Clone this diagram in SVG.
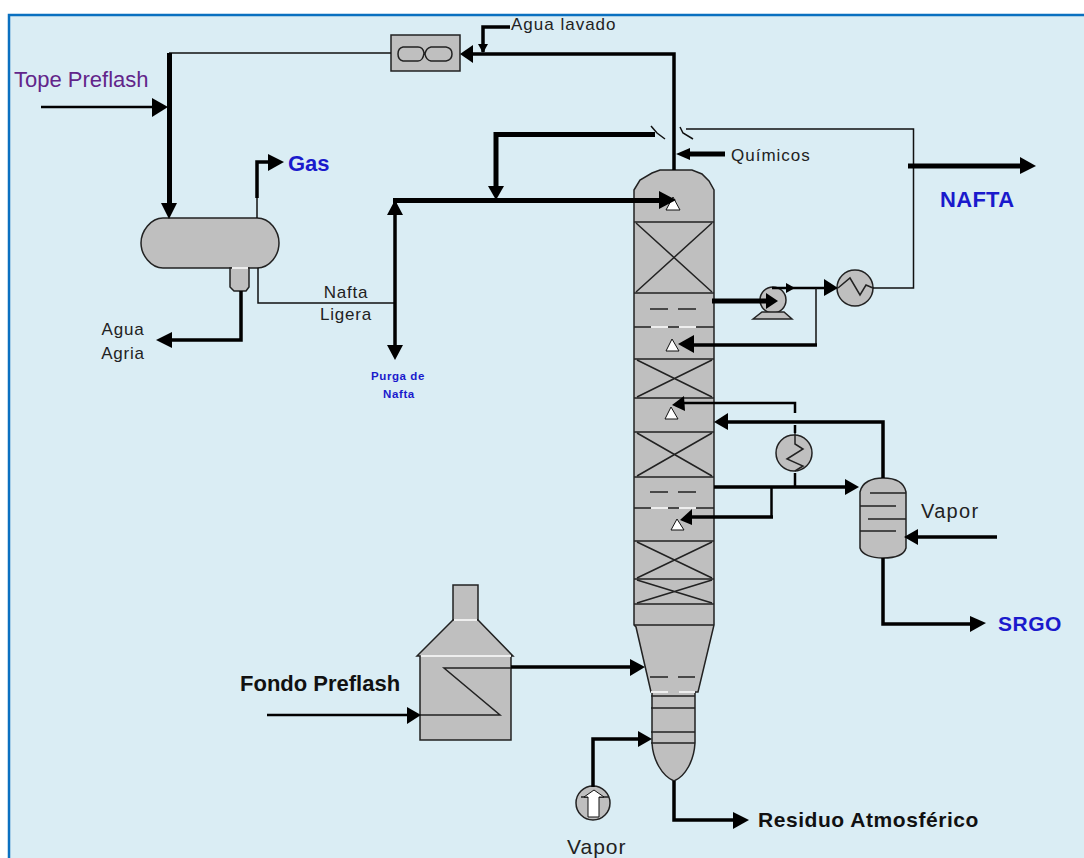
<svg xmlns="http://www.w3.org/2000/svg" width="1084" height="858" viewBox="0 0 1084 858">
<style>
.eq{fill:#bfbfbf;stroke:#222;stroke-width:1.5}
.in{fill:none;stroke:#222;stroke-width:1.5}
.w{fill:#fff;stroke:#111;stroke-width:1}
.lt{stroke:#eee;stroke-width:2;fill:none}
.p1{fill:none;stroke:#111;stroke-width:1.5}
.p2{fill:none;stroke:#000;stroke-width:2.500}
.p3{fill:none;stroke:#000;stroke-width:3.500}
.p5{fill:none;stroke:#000;stroke-width:5}
text{font-family:"Liberation Sans",Arial,sans-serif;fill:#222;font-size:18px}
.b{font-weight:bold;fill:#1a1acc;font-size:21px}
.k{font-weight:bold;fill:#111;font-size:21px}
.m{font-size:17px;letter-spacing:.8px}
.s{font-size:11.500px;font-weight:bold;fill:#1a1acc;letter-spacing:.6px}
</style>
<rect width="1084" height="858" fill="#fff"/>
<rect x="10" y="15" width="1074" height="843" fill="#daedf4"/>
<path d="M9 858V15H1084" fill="none" stroke="#0a70c0" stroke-width="2.500"/>

<g id="enfriador">
<rect class="eq" x="391" y="35" width="69" height="36"/>
<path class="in" d="M403 47H418Q423 47 424 53Q423 61 418 61H403Q398 60 398 54Q398 48 403 47ZM431 47H446Q452 48 452 54Q452 60 446 61H431Q426 60 425 54Q426 48 431 47Z"/>
</g>
<g id="separador">
<path class="eq" d="M163 218H257C270 218 279 231 279 243C279 255 270 268 257 268H163C151 268 141 255 141 243C141 231 151 218 163 218Z"/>
<path class="eq" d="M230 268H249V287L246 291H234L230 287Z"/>
<path class="lt" d="M232 268H248"/>
</g>
<g id="torre">
<path class="eq" d="M634 190L640 180L652 173L660 170H692L702 174L709 181L714 190V625L698 692H695V743C694 760 686 776 674 781C662 776 653 760 652 743V692H651L636 627L634 625Z"/>
<g class="in">
<path d="M634 222H714M634 293H714M634 327H714M634 359H714M634 398H714M634 432H714M634 477H714M634 508H714M634 541H714M634 579H714M634 604H714M634 625H714M651 696H695M651 708H695M651 732H695M651 743H695"/>
<path d="M636 223L712 292M712 223L636 292M637 360L712 397M712 360L637 397M637 433L712 476M712 433L637 476M637 542L712 578M712 542L637 578M637 580L712 603M712 580L637 603"/>
<path d="M650 309H668M678 309H696M650 492H668M678 492H696M650 677H668M678 677H695"/>
</g>
<path class="lt" d="M651 327H668M679 327H696M651 508H668M679 508H696M651 692H668M679 692H695"/>
<path class="w" d="M673 197L680 210H666Z"/><path class="w" d="M672 339L679 351H666Z"/><path class="w" d="M671 407L678 419H665Z"/><path class="w" d="M677 519L684 530H671Z"/>
</g>
<g id="bomba">
<circle class="eq" cx="773" cy="300" r="13"/><path class="eq" d="M753 319L762 312H784L792 319Z"/>
</g>
<g id="cambiador1">
<circle class="eq" cx="855" cy="288" r="18"/><path class="in" d="M838 288L850 278L860 295L866 285L873 288"/>
</g>
<g id="cambiador2">
<circle class="eq" cx="794" cy="453" r="18"/><path class="in" d="M795 433V444L803 449L787 459L803 466L795 471"/>
</g>
<g id="despojador">
<path class="eq" d="M860 492C862 482 872 478 883 478C895 478 904 482 906 492V548C904 555 895 558 883 558C872 558 862 555 860 548Z"/>
<path class="in" d="M870 493H906M860 506H896M868 519H906M860 531H896"/>
</g>
<g id="horno">
<path class="eq" d="M453 620V585H478V620Z"/>
<path class="eq" d="M417 656L453 620H478L513 656H511V740H420V656Z"/>
<path class="lt" d="M454 620H477M421 656H511"/>
<path class="in" d="M420 715H500L444 668H511"/>
</g>
<g id="vapor-inyector">
<circle class="eq" cx="593" cy="803" r="17"/>
<path class="in" d="M581 797H609"/>
<path class="w" d="M588 817V797H584L594 790L604 797H599V817Z"/>
</g>

<g id="connectors">
<path class="p1" d="M391 53H169"/>
<path class="p5" d="M169.500 53V205"/>
<path class="p2" d="M41 107H152"/>
<path d="M152 98L168 107L152 117Z"/><path d="M161 203H177L169 219Z"/>
<path class="p1" d="M257 218V196"/><path class="p3" d="M257 198V162H270"/><path d="M268 154L284 162L268 171Z"/>
<path class="p3" d="M241 291V340H170"/><path d="M172 332L156 340L172 348Z"/>
<path class="p1" d="M258 268V303H395"/>
<path class="p3" d="M395 203V345"/>
<path d="M387 215L395 200L403 215Z"/><path d="M387 345H403L395 360Z"/>
<path class="p5" d="M393 200.500H660"/><path d="M659 191L676 200L659 209Z"/>
<path class="p5" d="M494 134.500H655"/><path class="p5" d="M496 132V190"/><path d="M488 186H504L496 200Z"/>
<path class="p1" d="M651 126L657 133L665 139M680 127L683 133L693 139"/>
<path class="p3" d="M674 170V54H472"/><path d="M473 45V63L460 54Z"/>
<path class="p3" d="M483 52V27H510"/><path d="M478 44H488L483 53Z"/>
<path class="p1" d="M686 129H913.500V288H873"/>
<path class="p5" d="M908 166H1022"/><path d="M1020 157L1036 166L1020 174Z"/>
<path class="p5" d="M725 154H688"/><path d="M690 148V160L676 154Z"/>
<path class="p5" d="M712 301H770"/><path d="M766 293L778 301L766 309Z"/>
<path class="p2" d="M772 288H825"/><path d="M786 283L795 288L786 293Z"/><path d="M824 279L838 288L824 296Z"/>
<path class="p1" d="M816 288V345"/><path class="p3" d="M817 345H690"/><path d="M694 335V353L678 344Z"/>
<path class="p2" d="M795 413V403H682"/><path d="M684 396L685 411L672 405Z"/>
<path class="p3" d="M883 478V422H726"/><path d="M728 413V430L714 422Z"/>
<path class="p2" d="M795 425V433M795 473V487"/>
<path class="p3" d="M714 487H846"/><path d="M845 479L859 487L845 495Z"/>
<path class="p2" d="M771.500 487V517"/><path class="p3" d="M773 517H690"/><path d="M692 509V525L680 520Z"/>
<path class="p3" d="M883 558V624H972"/><path d="M970 616L986 623L970 632Z"/>
<path class="p3" d="M997 537H912"/><path d="M918 529V545L904 537Z"/>
<path class="p2" d="M267 715H410"/><path d="M407 707L421 715L407 724Z"/>
<path class="p3" d="M511 667H632"/><path d="M630 659L645 667L630 676Z"/>
<path class="p3" d="M593 787V739H640"/><path d="M638 731L652 739L638 747Z"/>
<path class="p3" d="M674 781V820H735"/><path d="M733 812L749 820L733 829Z"/>
</g>

<g id="labels">
<text x="14" y="87" style="font-size:22px;fill:#62258a">Tope Preflash</text>
<text x="288" y="171" class="b" style="font-size:22px">Gas</text>
<text x="511" y="30" class="m" style="letter-spacing:1px">Agua lavado</text>
<text x="731" y="161" class="m" style="letter-spacing:1px">Químicos</text>
<text x="940" y="207" class="b" style="font-size:22px;letter-spacing:.3px">NAFTA</text>
<text x="346" y="298" text-anchor="middle" class="m">Nafta</text>
<text x="346" y="320" text-anchor="middle" class="m">Ligera</text>
<text x="123" y="335" text-anchor="middle" class="m">Agua</text>
<text x="123" y="359" text-anchor="middle" class="m">Agria</text>
<text x="398" y="380" text-anchor="middle" class="s">Purga de</text>
<text x="399" y="398" text-anchor="middle" class="s">Nafta</text>
<text x="921" y="518" style="font-size:20px;letter-spacing:1.300px">Vapor</text>
<text x="998" y="631" class="b" style="letter-spacing:.5px">SRGO</text>
<text x="240" y="691" class="k" style="font-size:22px">Fondo Preflash</text>
<text x="758" y="827" class="k" style="letter-spacing:.55px">Residuo Atmosférico</text>
<text x="567" y="854" style="font-size:21px;letter-spacing:1px">Vapor</text>
</g>
</svg>
